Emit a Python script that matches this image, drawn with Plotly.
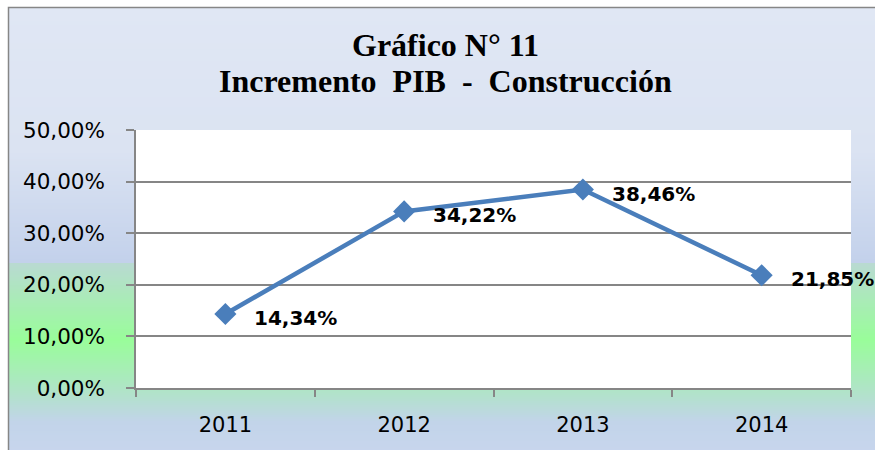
import plotly.graph_objects as go

# ---- data ----
years = ["2011", "2012", "2013", "2014"]
values = [14.34, 34.22, 38.46, 21.85]
value_labels = ["14,34%", "34,22%", "38,46%", "21,85%"]
y_ticks = [0, 10, 20, 30, 40, 50]
y_tick_labels = ["0,00%", "10,00%", "20,00%", "30,00%", "40,00%", "50,00%"]
title_lines = ["Gráfico N° 11", "Incremento  PIB  -  Construcción"]

W, H = 875, 450
# plot area in pixels: x 136..851, y 130..388
L, T = 136, 130
R = W - 851
B = H - 388
PW, PH = W - L - R, H - T - B

def px_x(x):  # pixel -> paper
    return (x - L) / PW

def px_y(y):
    return (H - B - y) / PH

def hex2rgb(h):
    h = h.lstrip("#")
    return tuple(int(h[i:i + 2], 16) for i in (0, 2, 4))

# gradient stops (pixel y, colour) for the chart-area background
stops = [
    (7, "#e0e7f4"),
    (150, "#dbe3f2"),
    (262, "#c3d1eb"),
    (263, "#b9dad2"),
    (340, "#99fd9a"),
    (395, "#b2e2cc"),
    (422, "#c2d4e9"),
    (460, "#c9d6ee"),
]

def color_at(y):
    for (y0, c0), (y1, c1) in zip(stops[:-1], stops[1:]):
        if y0 <= y <= y1:
            t = 0 if y1 == y0 else (y - y0) / (y1 - y0)
            a, b = hex2rgb(c0), hex2rgb(c1)
            return "rgb(%d,%d,%d)" % tuple(round(a[i] + (b[i] - a[i]) * t) for i in range(3))
    return stops[-1][1]

shapes = []
step = 2
y = 7
while y < 452:
    shapes.append(dict(type="rect", xref="paper", yref="paper",
                       x0=px_x(8), x1=px_x(880), y0=px_y(y + step + 0.5), y1=px_y(y),
                       fillcolor=color_at(y + step / 2), line=dict(width=0), layer="below"))
    y += step
# chart-area border (left and top edges visible)
shapes.append(dict(type="rect", xref="paper", yref="paper",
                   x0=px_x(8.5), x1=px_x(895), y0=px_y(470), y1=px_y(7.5),
                   fillcolor="rgba(0,0,0,0)", line=dict(color="#868686", width=1.5), layer="below"))
# white plot area
shapes.append(dict(type="rect", xref="x domain", yref="y domain", x0=0, x1=1, y0=0, y1=1,
                   fillcolor="white", line=dict(width=0), layer="below"))

fig = go.Figure()
fig.add_trace(go.Scatter(
    x=years, y=values, mode="lines+markers",
    line=dict(color="#4a7ebb", width=4.5),
    marker=dict(symbol="diamond", size=17, color="#4a7ebb"),
    hoverinfo="skip", showlegend=False, cliponaxis=False,
))

annotations = []
for i, (v, lab) in enumerate(zip(values, value_labels)):
    annotations.append(dict(x=i, y=v, xref="x", yref="y", text=lab, showarrow=False,
                            xanchor="left", yanchor="middle", xshift=27, yshift=-4,
                            font=dict(family="DejaVu Sans", size=20, color="black", weight="bold")))
for line, ypix in zip(title_lines, [45, 81]):
    annotations.append(dict(x=px_x(445), y=px_y(ypix), xref="paper", yref="paper",
                            text=line, showarrow=False, xanchor="center", yanchor="middle",
                            font=dict(family="Liberation Serif", size=32, color="black",
                                      weight="bold")))

fig.update_layout(
    width=W, height=H,
    margin=dict(l=L, r=R, t=T, b=B, pad=0, autoexpand=False),
    paper_bgcolor="white", plot_bgcolor="white",
    shapes=shapes, annotations=annotations,
    xaxis=dict(type="category", range=[-0.5, 3.5], showgrid=False, automargin=False,
               showline=True, linecolor="#868686", linewidth=1.5,
               ticks="outside", tickson="boundaries", ticklen=7, tickcolor="#868686", tickwidth=1.5,
               ticklabelstandoff=17,
               tickfont=dict(family="DejaVu Sans", size=21, color="black"), fixedrange=True),
    yaxis=dict(range=[0, 50], tickvals=y_ticks, ticktext=y_tick_labels, automargin=False,
               showgrid=True, gridcolor="#868686", gridwidth=1.5,
               showline=True, linecolor="#868686", linewidth=1.5, zeroline=False,
               ticks="outside", ticklen=8, tickcolor="#868686", tickwidth=1.5,
               ticklabelstandoff=17,
               tickfont=dict(family="DejaVu Sans", size=21.5, color="black"), fixedrange=True),
)

fig.write_html("out.html", config={"displayModeBar": False},
               post_script="document.body.style.margin='0';document.body.style.overflow='hidden';")
